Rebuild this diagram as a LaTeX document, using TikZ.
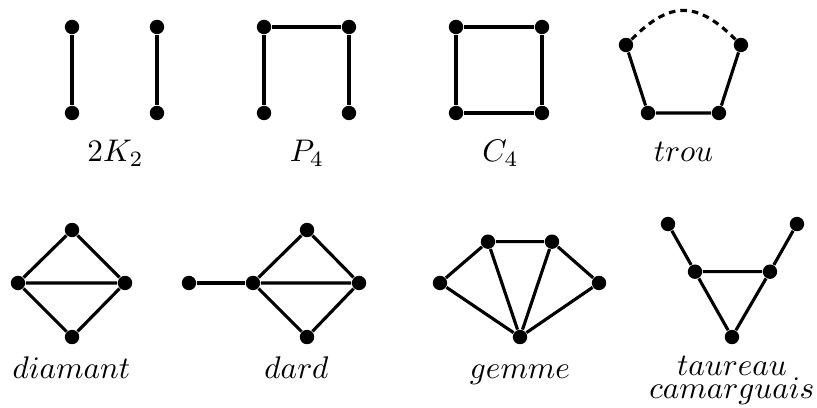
\documentclass[tikz,border=0pt]{standalone}
\usepackage{tikz}
\usetikzlibrary{positioning}

\begin{document}
\begin{tikzpicture}[
  sommet/.style={circle,fill=black,inner sep=0pt,minimum size=4.6pt},
  lien/.style={line width=1pt},
  pointille/.style={line width=1pt,dash pattern=on 2.1pt off 1.6pt},
  nom/.style={anchor=base,inner sep=0pt},
]
\useasboundingbox (0,0) rectangle (9.175,-4.571);

% 2K2
\node[sommet] (k1) at (0.809,-0.303) {};
\node[sommet] (k2) at (0.809,-1.269) {};
\node[sommet] (k3) at (1.763,-0.303) {};
\node[sommet] (k4) at (1.763,-1.269) {};
\draw[lien] (k1) -- (k2);
\draw[lien] (k3) -- (k4);
\node[nom] (nk) at (1.297,-1.819) {$2K_2$};

% P4
\node[sommet] (p1) at (2.965,-0.303) {};
\node[sommet] (p2) at (3.919,-0.303) {};
\node[sommet] (p3) at (2.965,-1.269) {};
\node[sommet] (p4) at (3.919,-1.269) {};
\draw[lien] (p3) -- (p1) -- (p2) -- (p4);
\node[nom] (np) at (3.448,-1.819) {$P_4$};

% C4
\node[sommet] (c1) at (5.121,-0.303) {};
\node[sommet] (c2) at (6.087,-0.303) {};
\node[sommet] (c3) at (5.121,-1.269) {};
\node[sommet] (c4) at (6.087,-1.269) {};
\draw[lien] (c1) -- (c2) -- (c4) -- (c3) -- (c1);
\node[nom] (nc) at (5.621,-1.819) {$C_4$};

% trou
\node[sommet] (t1) at (7.030,-0.505) {};
\node[sommet] (t2) at (8.321,-0.505) {};
\node[sommet] (t3) at (7.277,-1.269) {};
\node[sommet] (t4) at (8.074,-1.269) {};
\draw[lien] (t1) -- (t3) -- (t4) -- (t2);
\draw[pointille] (t1) to[out=45,in=135,looseness=1.35] (t2);
\node[nom] (nt) at (7.676,-1.819) {$trou$};

% diamant
\node[sommet] (d1) at (0.809,-2.583) {};
\node[sommet] (d2) at (0.202,-3.178) {};
\node[sommet] (d3) at (1.404,-3.178) {};
\node[sommet] (d4) at (0.809,-3.785) {};
\draw[lien] (d2) -- (d1) -- (d3) -- (d4) -- (d2) -- (d3);
\node[nom] (nd) at (0.803,-4.256) {$diamant$};

% dard
\node[sommet] (r0) at (2.122,-3.178) {};
\node[sommet] (r1) at (3.448,-2.583) {};
\node[sommet] (r2) at (2.841,-3.178) {};
\node[sommet] (r3) at (4.032,-3.178) {};
\node[sommet] (r4) at (3.448,-3.785) {};
\draw[lien] (r0) -- (r2);
\draw[lien] (r2) -- (r1) -- (r3) -- (r4) -- (r2) -- (r3);
\node[nom] (nr) at (3.330,-4.256) {$dard$};

% gemme
\node[sommet] (g1) at (4.941,-3.178) {};
\node[sommet] (g2) at (5.480,-2.714) {};
\node[sommet] (g3) at (6.199,-2.714) {};
\node[sommet] (g4) at (6.727,-3.178) {};
\node[sommet] (g5) at (5.840,-3.785) {};
\draw[lien] (g1) -- (g2) -- (g3) -- (g4) -- (g5) -- (g1);
\draw[lien] (g2) -- (g5) -- (g3);
\node[nom] (ng) at (5.840,-4.256) {$gemme$};

% taureau camarguais
\node[sommet] (u1) at (7.502,-2.516) {};
\node[sommet] (u2) at (8.950,-2.516) {};
\node[sommet] (u3) at (7.805,-3.051) {};
\node[sommet] (u4) at (8.647,-3.051) {};
\node[sommet] (u5) at (8.220,-3.785) {};
\draw[lien] (u1) -- (u3) -- (u4) -- (u2);
\draw[lien] (u3) -- (u5) -- (u4);
\node[nom,align=center] (nu) at (8.220,-4.470) {$taureau$\\[-4.8pt]\smash{$camarguais$}};
\end{tikzpicture}
\end{document}
